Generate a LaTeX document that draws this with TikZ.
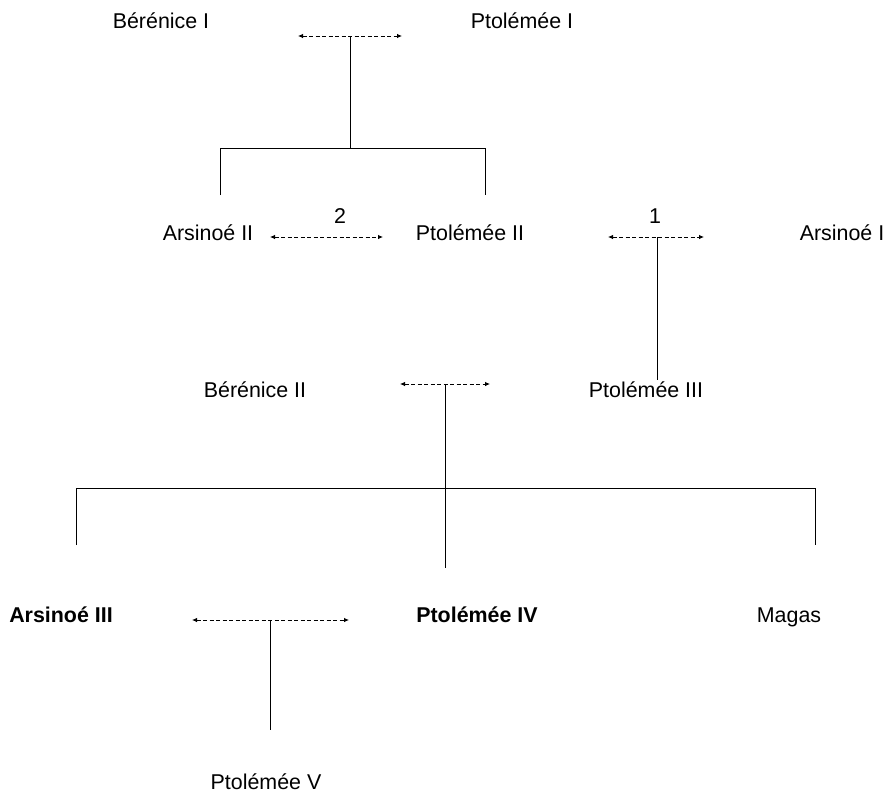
\documentclass[tikz,border=0pt]{standalone}
\usepackage{fontspec}
\setmainfont{Liberation Sans}
\usetikzlibrary{arrows.meta}
\begin{document}
\begin{tikzpicture}[x=1pt,y=-1pt,
  person/.style={font=\fontsize{21.4}{25}\selectfont, inner sep=0pt, anchor=base},
  heir/.style={person, font=\fontsize{21.4}{25}\selectfont\bfseries},
  marriage/.style={dash pattern=on 4pt off 2.5pt, line width=0.8pt,
    {Latex[length=5pt,width=4.5pt]}-{Latex[length=5pt,width=4.5pt]}},
  descent/.style={line width=0.9pt},
  num/.style={font=\fontsize{21.4}{25}\selectfont, inner sep=0pt, anchor=base}]
\useasboundingbox (0,0) rectangle (891,793);

% generation 1
\node[person] (b1) at (161,28) {Bérénice I};
\node[person] (p1) at (522,28) {Ptolémée I};
\coordinate (m1l) at (298,36);
\coordinate (m1r) at (402,36);
\draw[marriage] (m1l) -- (m1r);
\coordinate (m1) at (350,36);
\coordinate (f1) at (350,148);
\coordinate (f1l) at (220,148);
\coordinate (f1r) at (485,148);
\coordinate (d1l) at (220,195);
\coordinate (d1r) at (485,195);
\draw[descent] (m1) -- (f1);
\draw[descent] (d1l) -- (f1l) -- (f1r) -- (d1r);

% generation 2
\node[person] (a2) at (208,240) {Arsinoé II};
\node[person] (p2) at (470,240) {Ptolémée II};
\node[person] (a1) at (842,240) {Arsinoé I};
\coordinate (m2l) at (270,237);
\coordinate (m2r) at (383,237);
\draw[marriage] (m2l) -- (m2r);
\node[num] (n2) at (340,223) {2};
\coordinate (m3l) at (608,237);
\coordinate (m3r) at (704,237);
\draw[marriage] (m3l) -- (m3r);
\node[num] (n1) at (655,223) {1};
\coordinate (m3) at (657,237);
\coordinate (d3) at (657,380);
\draw[descent] (m3) -- (d3);

% generation 3
\node[person] (b2) at (255,397) {Bérénice II};
\node[person] (p3) at (646,397) {Ptolémée III};
\coordinate (m4l) at (400,384);
\coordinate (m4r) at (490,384);
\draw[marriage] (m4l) -- (m4r);
\coordinate (m4) at (445,384);
\coordinate (d4) at (445,568);
\draw[descent] (m4) -- (d4);
\coordinate (f4l) at (76,488);
\coordinate (f4r) at (815,488);
\coordinate (d4l) at (76,545);
\coordinate (d4r) at (815,545);
\draw[descent] (d4l) -- (f4l) -- (f4r) -- (d4r);

% generation 4
\node[heir] (a3) at (61,622) {Arsinoé III};
\node[heir] (p4) at (477,622) {Ptolémée IV};
\node[person] (mg) at (789,622) {Magas};
\coordinate (m5l) at (192,620);
\coordinate (m5r) at (349,620);
\draw[marriage] (m5l) -- (m5r);
\coordinate (m5) at (270,620);
\coordinate (d5) at (270,730);
\draw[descent] (m5) -- (d5);

% generation 5
\node[person] (p5) at (266,789) {Ptolémée V};
\end{tikzpicture}
\end{document}
